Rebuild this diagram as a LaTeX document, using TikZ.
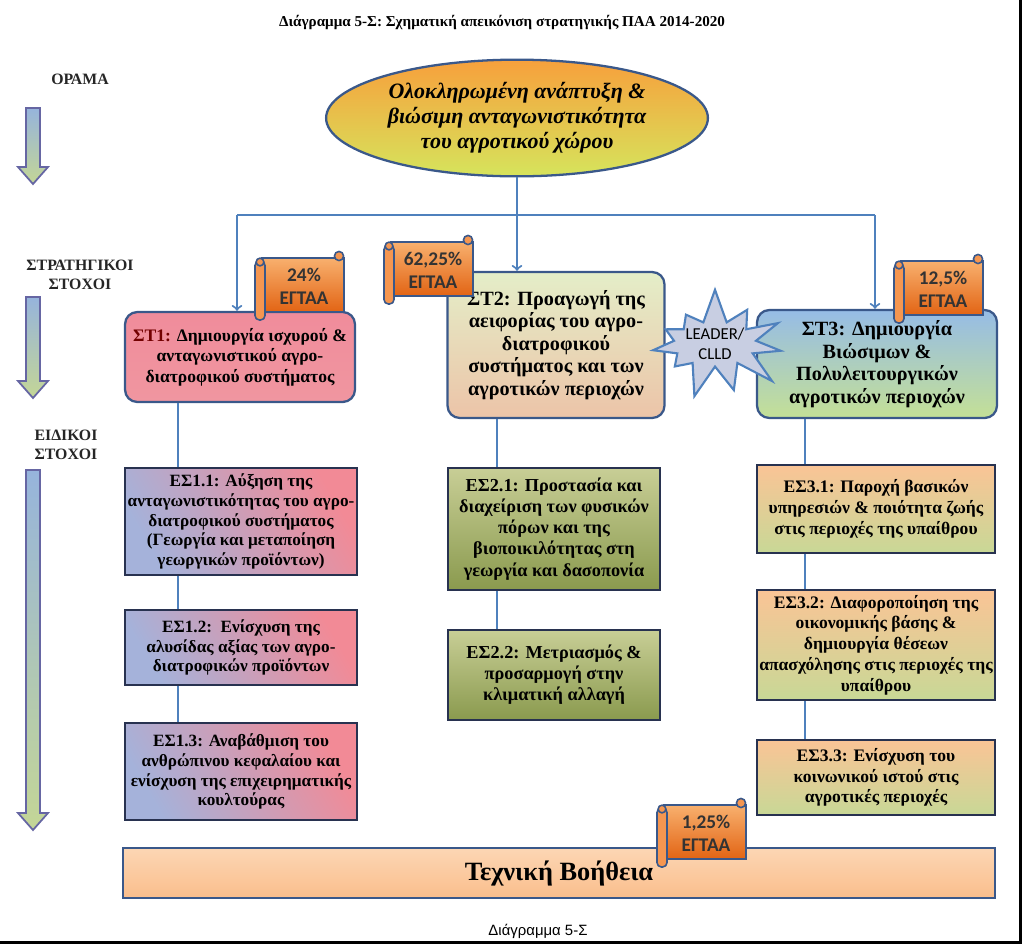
\documentclass[tikz,border=0pt]{standalone}
\usepackage{fontspec}
\setmainfont{Liberation Serif}
\newfontfamily\calibfont{Carlito}
\newfontfamily\arialfont{Liberation Sans}
\usetikzlibrary{shapes.geometric,shapes.symbols}

\definecolor{linkblue}{RGB}{79,129,189}
\definecolor{edgeblue}{RGB}{58,88,138}
\definecolor{esedge}{RGB}{40,50,80}
\definecolor{scrolltop}{RGB}{248,176,110}
\definecolor{scrollbot}{RGB}{226,100,20}
\definecolor{scrollroll}{RGB}{245,150,80}
\definecolor{arrowtop}{RGB}{150,180,220}
\definecolor{arrowbot}{RGB}{196,214,150}

\tikzset{
  link/.style={draw=linkblue, line width=1.2pt},
  sidelabel/.style={font=\fontsize{9}{10.5}\selectfont\bfseries, align=center, text=black!85},
  sidearrow/.style={draw=black!60!blue!60, line width=1pt, top color=arrowtop, bottom color=arrowbot},
  stbox/.style={draw=edgeblue, line width=1.3pt, rounded corners=7pt, align=center, inner sep=1pt},
  esbox/.style={draw=esedge, line width=1.3pt, align=center, inner sep=1pt,
    font=\fontsize{9.8}{11.3}\selectfont\bfseries},
  scrolledge/.style={draw=edgeblue, line width=0.9pt},
  badgetext/.style={font=\calibfont\fontsize{11}{13}\selectfont\bfseries, align=center, text=black!80}
}

\newcommand{\scrollbadge}[4]{% name, left, top, text
  \begin{scope}[shift={(#2,#3)}]
    \draw[scrolledge, top color=scrolltop, bottom color=scrollbot] (8,8) rectangle (90,62);
    \draw[scrolledge, fill=scrollroll, rounded corners=2.5pt] (1,11) rectangle (11,70);
    \draw[scrolledge, fill=scrollroll] (85,6) circle (2.6pt);
    \draw[scrolledge, fill=scrollroll] (6,12) circle (2.2pt);
    \node[badgetext] (#1) at (50,36) {#4};
  \end{scope}}

\begin{document}
\begin{tikzpicture}[x=0.02cm, y=-0.02cm]
  \useasboundingbox (0,0) rectangle (1023,947);

  \node[font=\fontsize{8.6}{10}\selectfont\bfseries] (title) at (502,22)
    {Διάγραμμα 5-Σ: Σχηματική απεικόνιση στρατηγικής ΠΑΑ 2014-2020};

  % left side
  \node[sidelabel] (orama) at (80,79) {ΟΡΑΜΑ};
  \node[sidelabel] (strat) at (80,275) {ΣΤΡΑΤΗΓΙΚΟΙ\\ΣΤΟΧΟΙ};
  \node[sidelabel] (eidikoi) at (66,445) {ΕΙΔΙΚΟΙ\\ΣΤΟΧΟΙ};
  \foreach \ya/\yb in {108/184, 297/398, 470/830}{
      \draw[sidearrow] (26,\ya) -- (40,\ya) -- (40,\yb-17) -- (48,\yb-17)
        -- (33,\yb) -- (18,\yb-17) -- (26,\yb-17) -- cycle;
  }

  % vision
  \node[ellipse, draw=edgeblue, line width=1.3pt, minimum width=6.7cm, minimum height=2.14cm,
    top color={rgb,255:red,247;green,160;blue,60}, middle color={rgb,255:red,246;green,222;blue,80},
    bottom color={rgb,255:red,214;green,228;blue,92},
    font=\fontsize{12.5}{14.2}\selectfont\bfseries\itshape, align=center] (vision) at (517,118)
    {Ολοκληρωμένη ανάπτυξη \&\\βιώσιμη ανταγωνιστικότητα\\του αγροτικού χώρου};

  % strategic goals
  \node[stbox, minimum width=4.6cm, minimum height=1.8cm,
    top color={rgb,255:red,240;green,140;blue,155}, middle color={rgb,255:red,205;green,222;blue,244},
    bottom color={rgb,255:red,240;green,150;blue,160},
    font=\fontsize{10}{11.6}\selectfont\bfseries] (st1) at (240,357)
    {\textcolor{red!45!black}{ΣΤ1:} Δημιουργία ισχυρού \&\\ανταγωνιστικού αγρο-\\διατροφικού συστήματος};
  \node[stbox, minimum width=4.34cm, minimum height=2.92cm,
    top color={rgb,255:red,228;green,238;blue,200}, bottom color={rgb,255:red,236;green,196;blue,168},
    font=\fontsize{11.5}{12.8}\selectfont\bfseries] (st2) at (556,345)
    {ΣΤ2: Προαγωγή της\\αειφορίας του αγρο-\\διατροφικού\\συστήματος και των\\αγροτικών περιοχών};
  \node[stbox, minimum width=4.8cm, minimum height=2.16cm,
    top color={rgb,255:red,150;green,188;blue,230}, bottom color={rgb,255:red,196;green,224;blue,150},
    font=\fontsize{11.5}{12.8}\selectfont\bfseries] (st3) at (877,364)
    {ΣΤ3: Δημιουργία\\Βιώσιμων \&\\Πολυλειτουργικών\\αγροτικών περιοχών};

  % specific goals
  \foreach \nm/\yc/\hh/\txt in {
      es11/521.5/2.14/{ΕΣ1.1: Αύξηση της\\ανταγωνιστικότητας του αγρο-\\διατροφικού συστήματος\\(Γεωργία και μεταποίηση\\γεωργικών προϊόντων)},
      es12/647.5/1.5/{ΕΣ1.2:\ \ Ενίσχυση της\\αλυσίδας αξίας των αγρο-\\διατροφικών προϊόντων},
      es13/771.5/1.94/{ΕΣ1.3: Αναβάθμιση του\\ανθρώπινου κεφαλαίου και\\ενίσχυση της επιχειρηματικής\\κουλτούρας}}{
      \node[esbox, minimum width=4.64cm, minimum height=\hh cm,
        left color={rgb,255:red,165;green,178;blue,218}, middle color={rgb,255:red,214;green,160;blue,188},
        right color={rgb,255:red,242;green,138;blue,150}, shading angle=120] (\nm) at (241,\yc) {\txt};
  }
  \foreach \nm/\yc/\hh/\txt in {
      es21/529/2.44/{ΕΣ2.1: Προστασία και\\διαχείριση των φυσικών\\πόρων και της\\βιοποικιλότητας στη\\γεωργία και δασοπονία},
      es22/675/1.8/{ΕΣ2.2: Μετριασμός \&\\προσαρμογή στην\\κλιματική αλλαγή}}{
      \node[esbox, minimum width=4.24cm, minimum height=\hh cm,
        font=\fontsize{10.4}{12}\selectfont\bfseries,
        top color={rgb,255:red,200;green,206;blue,150}, bottom color={rgb,255:red,138;green,154;blue,78}] (\nm) at (554,\yc) {\txt};
  }
  \foreach \nm/\yc/\hh/\txt in {
      es31/509/1.76/{ΕΣ3.1: Παροχή βασικών\\υπηρεσιών \& ποιότητα ζωής\\στις περιοχές της υπαίθρου},
      es32/645/2.2/{ΕΣ3.2: Διαφοροποίηση της\\οικονομικής βάσης \&\\δημιουργία θέσεων\\απασχόλησης στις περιοχές της\\υπαίθρου},
      es33/777.5/1.5/{ΕΣ3.3: Ενίσχυση του\\κοινωνικού ιστού στις\\αγροτικές περιοχές}}{
      \node[esbox, minimum width=4.76cm, minimum height=\hh cm,
        font=\fontsize{10}{11.8}\selectfont\bfseries,
        top color={rgb,255:red,250;green,196;blue,150}, middle color={rgb,255:red,240;green,192;blue,176},
        bottom color={rgb,255:red,200;green,216;blue,150}] (\nm) at (876,\yc) {\txt};
  }

  % technical support
  \node[draw=edgeblue, line width=1.3pt, minimum width=17.44cm, minimum height=1cm,
    top color={rgb,255:red,252;green,214;blue,180}, bottom color={rgb,255:red,250;green,190;blue,140},
    font=\fontsize{15}{17}\selectfont\bfseries] (tech) at (559,873) {Τεχνική Βοήθεια};

  % connectors
  \coordinate (busL) at (237,215);
  \coordinate (busR) at (875,215);
  \coordinate (c1) at (178,0);
  \coordinate (c2) at (497,0);
  \coordinate (c3) at (805,0);
  \draw[link] (vision.south) -- (vision.south |- busL);
  \draw[link] (busL) -- (busR);
  \draw[link,->] (busL) -- (busL |- st1.north);
  \draw[link,->] (vision.south |- busL) -- (vision.south |- st2.north);
  \draw[link,->] (busR) -- (busR |- st3.north);
  \draw[link] (st1.south -| c1) -- (es11.north -| c1);
  \draw[link] (es11.south -| c1) -- (es12.north -| c1);
  \draw[link] (es12.south -| c1) -- (es13.north -| c1);
  \draw[link] (st2.south -| c2) -- (es21.north -| c2);
  \draw[link] (es21.south -| c2) -- (es22.north -| c2);
  \draw[link] (st3.south -| c3) -- (es31.north -| c3);
  \draw[link] (es31.south -| c3) -- (es32.north -| c3);
  \draw[link] (es32.south -| c3) -- (es33.north -| c3);

  % LEADER
  \node[starburst, starburst points=11, starburst point height=0.7cm, random starburst=7,
    draw=linkblue, line width=1.2pt, fill={rgb,255:red,200;green,206;blue,226},
    minimum width=1.8cm, minimum height=1.7cm, inner sep=0pt, align=center,
    font=\calibfont\fontsize{9.5}{11.5}\selectfont] (leader) at (715,344) {LEADER/\\CLLD};

  % budget shares
  \scrollbadge{b1}{254}{250}{24\%\\ΕΓΤΑΑ}
  \scrollbadge{b2}{383}{234}{62,25\%\\ΕΓΤΑΑ}
  \scrollbadge{b3}{893}{253}{12,5\%\\ΕΓΤΑΑ}
  \scrollbadge{b4}{656}{797}{1,25\%\\ΕΓΤΑΑ}

  \node[font=\arialfont\fontsize{8.5}{10}\selectfont] (caption) at (538,931) {Διάγραμμα 5-Σ};
  \draw[line width=1.7pt] (1020,0) -- (1020,942) -- (0,942);
\end{tikzpicture}
\end{document}
